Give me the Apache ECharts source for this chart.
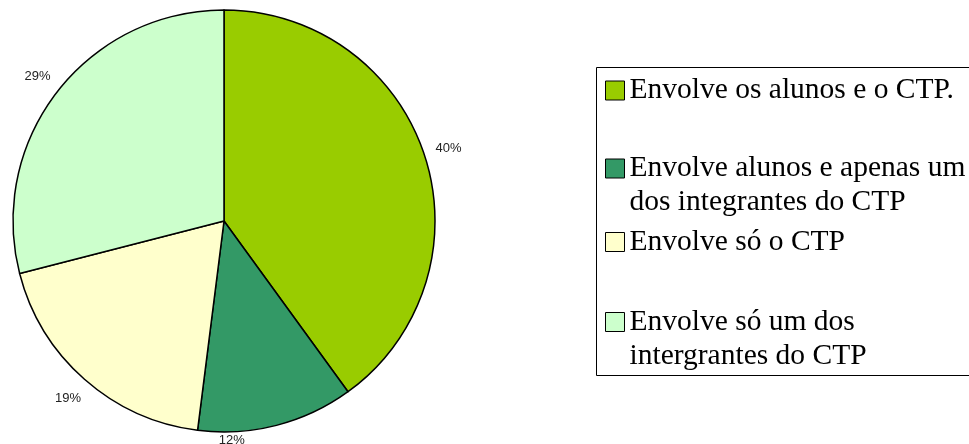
<!DOCTYPE html>
<html><head><meta charset="utf-8">
<script src="https://cdn.jsdelivr.net/npm/echarts@6/dist/echarts.min.js"></script>
<style>html,body{margin:0;padding:0;background:#fff}#c{width:969px;height:444px}</style>
</head><body><div id="c"></div>
<script>
// ---- data ----
const categories = [
  'Envolve os alunos e o CTP.',
  'Envolve alunos e apenas um dos integrantes do CTP',
  'Envolve só o CTP',
  'Envolve só um dos intergrantes do CTP'
];
const values = [40, 12, 19, 29];
const colors = ['#99CC00', '#339966', '#FFFFCC', '#CCFFCC'];
const legendLines = [
  ['Envolve os alunos e o CTP.'],
  ['Envolve alunos e apenas um', 'dos integrantes do CTP'],
  ['Envolve só o CTP'],
  ['Envolve só um dos', 'intergrantes do CTP']
];

// ---- layout ----
const legendTops = [73.5, 117.5, 225, 271];

const chart = echarts.init(document.getElementById('c'), null, {renderer: 'canvas'});
const pieData = categories.map((n, i) => ({name: n, value: values[i], itemStyle: {color: colors[i]}}));
const labelData = categories.map((n, i) => ({name: n, value: values[i]}));

const legends = categories.map((n, i) => ({
  data: [n],
  orient: 'vertical',
  left: 605,
  top: legendTops[i],
  padding: 0,
  itemWidth: 19,
  itemHeight: 19,
  icon: 'rect',
  selectedMode: false,
  itemStyle: {borderColor: '#000', borderWidth: 1},
  textStyle: {fontFamily: 'Liberation Serif', fontSize: 29.5, color: '#000', lineHeight: 34},
  formatter: () => (legendLines[i].length > 1 ? '\n' : '') + legendLines[i].join('\n')
}));

chart.setOption({
  animation: false,
  backgroundColor: '#fff',
  graphic: [{
    type: 'rect',
    shape: {x: 596.5, y: 67.5, width: 400, height: 308},
    style: {fill: 'none', stroke: '#000', lineWidth: 1},
    z: 0, silent: true
  }],
  legend: legends,
  series: [
    {
      type: 'pie',
      center: [224, 221],
      radius: 211,
      startAngle: 90,
      clockwise: true,
      data: pieData,
      label: {show: false},
      labelLine: {show: false},
      itemStyle: {borderColor: '#000', borderWidth: 1.5},
      emphasis: {disabled: true}
    },
    {
      type: 'pie',
      center: [224, 221],
      radius: [222, 244],
      startAngle: 90,
      clockwise: true,
      silent: true,
      data: labelData,
      itemStyle: {color: 'rgba(0,0,0,0)', borderWidth: 0},
      label: {
        show: true, position: 'inside', formatter: '{c}%',
        fontFamily: 'Liberation Sans', fontSize: 13, color: '#222'
      },
      labelLine: {show: false},
      emphasis: {disabled: true},
      labelLayout: p => p.dataIndex === 1 ? {dx: -51, dy: -9} : {}
    }
  ]
});
</script>
</body></html>
